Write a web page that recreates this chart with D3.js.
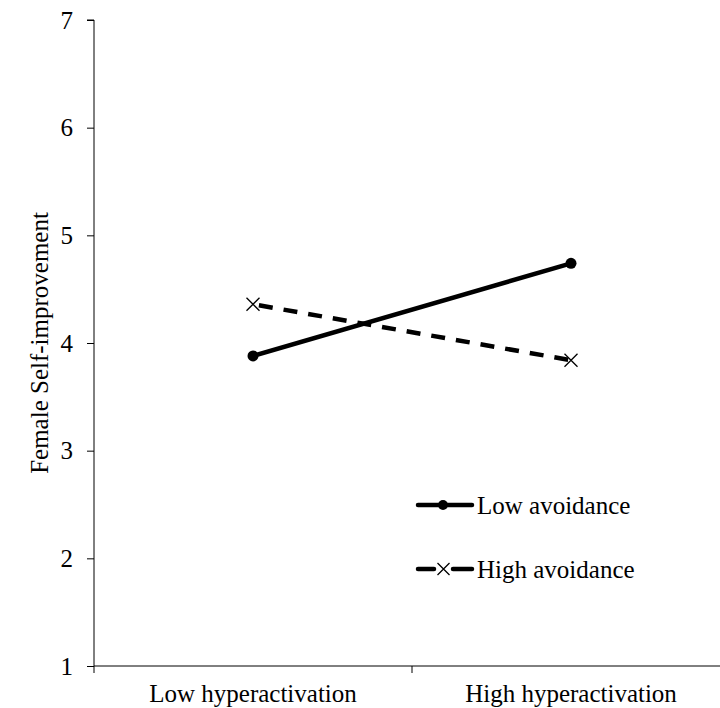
<!DOCTYPE html>
<html>
<head>
<meta charset="utf-8">
<script src="https://cdn.jsdelivr.net/npm/d3@7"></script>
<style>
  body { margin: 0; background: #fff; }
  svg { display: block; }
  text { font-family: "Liberation Serif", "Times New Roman", serif; fill: #000; }
</style>
</head>
<body>
<svg id="chart" width="720" height="708"></svg>
<script>
const categories = ["Low hyperactivation", "High hyperactivation"];
const seriesNames = ["Low avoidance", "High avoidance"];
const lowAvoidance = [3.88, 4.74];
const highAvoidance = [4.36, 3.84];
const yTicks = [1, 2, 3, 4, 5, 6, 7];
const yLabel = "Female Self-improvement";

const FS = "25px";
const svg = d3.select("#chart");
const margin = { left: 94, top: 20, bottom: 666, right: 730 };

const x = d3.scaleBand().domain(categories).range([margin.left, margin.right]).paddingInner(0).paddingOuter(0);
const y = d3.scaleLinear().domain([1, 7]).range([margin.bottom, margin.top]);

// y axis
const yAxis = d3.axisLeft(y).tickValues(yTicks).tickSize(7).tickPadding(14).tickFormat(d3.format("d"));
const gy = svg.append("g").attr("transform", `translate(${margin.left},0)`).call(yAxis);
gy.attr("font-size", null).attr("font-family", null);
gy.select(".domain").attr("stroke", "#000").attr("stroke-width", 1).attr("d", `M-7,${y(7)}H0V${y(1)}`);
gy.selectAll(".tick line").attr("stroke", "#000");
gy.selectAll(".tick text").style("font-size", FS);

// x axis
const xAxis = d3.axisBottom(x).tickSize(0).tickPadding(36);
const gx = svg.append("g").attr("transform", `translate(0,${margin.bottom})`).call(xAxis);
gx.attr("font-size", null).attr("font-family", null);
gx.select(".domain").attr("stroke", "#000").attr("stroke-width", 1).attr("d", `M${margin.left},0H${margin.right}`);
gx.selectAll(".tick text").style("font-size", FS).attr("dy", null);
const bounds = [margin.left, x(categories[1]), margin.right];
gx.selectAll(".btick").data(bounds).enter().append("line")
  .attr("x1", d => d).attr("x2", d => d).attr("y1", 0).attr("y2", 7).attr("stroke", "#000");

// y label
svg.append("text")
  .attr("transform", `translate(48,${(y(1) + y(7)) / 2}) rotate(-90)`)
  .attr("text-anchor", "middle")
  .style("font-size", FS)
  .text(yLabel);

const cx = d => x(d) + x.bandwidth() / 2;
const line = d3.line().x(d => cx(d.cat)).y(d => y(d.v));

const lowData = categories.map((c, i) => ({ cat: c, v: lowAvoidance[i] }));
const highData = categories.map((c, i) => ({ cat: c, v: highAvoidance[i] }));

svg.append("path").datum(highData).attr("d", line)
  .attr("fill", "none").attr("stroke", "#000").attr("stroke-width", 4.5)
  .attr("stroke-dasharray", "14,11").attr("stroke-dashoffset", -6);
svg.append("path").datum(lowData).attr("d", line)
  .attr("fill", "none").attr("stroke", "#000").attr("stroke-width", 4.5);

svg.selectAll(".dotLow").data(lowData).enter().append("circle")
  .attr("cx", d => cx(d.cat)).attr("cy", d => y(d.v)).attr("r", 5.5).attr("fill", "#000");

function cross(g, px, py, s) {
  g.append("path").attr("d", `M${px - s},${py - s}L${px + s},${py + s}M${px - s},${py + s}L${px + s},${py - s}`)
    .attr("stroke", "#000").attr("stroke-width", 1.3).attr("fill", "none");
}
highData.forEach(d => cross(svg, cx(d.cat), y(d.v), 6.5));

// legend
const legend = svg.append("g");
const legY = [505, 569];
seriesNames.forEach((name, i) => {
  const ly = legY[i];
  if (i === 0) {
    legend.append("line").attr("x1", 418).attr("x2", 472).attr("y1", ly).attr("y2", ly)
      .attr("stroke", "#000").attr("stroke-width", 4.5).attr("stroke-linecap", "round");
    legend.append("circle").attr("cx", 443).attr("cy", ly).attr("r", 5).attr("fill", "#000");
  } else {
    legend.append("line").attr("x1", 418).attr("x2", 434).attr("y1", ly).attr("y2", ly)
      .attr("stroke", "#000").attr("stroke-width", 4.5).attr("stroke-linecap", "round");
    legend.append("line").attr("x1", 453).attr("x2", 472).attr("y1", ly).attr("y2", ly)
      .attr("stroke", "#000").attr("stroke-width", 4.5).attr("stroke-linecap", "round");
    cross(legend, 443.5, ly, 6);
  }
  legend.append("text").attr("x", 477).attr("y", ly).attr("dy", "0.35em")
    .style("font-size", FS).text(name);
});
</script>
</body>
</html>
